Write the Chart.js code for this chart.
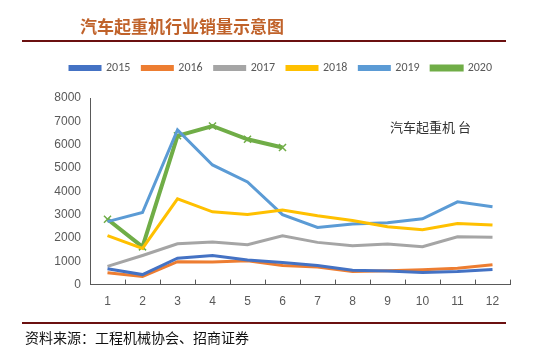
<!DOCTYPE html>
<html><head><meta charset="utf-8">
<script src="https://cdn.jsdelivr.net/npm/chart.js@4/dist/chart.umd.min.js"></script>
<style>html,body{margin:0;padding:0;background:#fff}#c{display:block}</style>
</head><body>
<canvas id="c" width="550" height="356"></canvas>
<script>
const months = ['1','2','3','4','5','6','7','8','9','10','11','12'];
const yTicks = [0,1000,2000,3000,4000,5000,6000,7000,8000];
const s2015 = [680,430,1130,1250,1050,950,820,620,580,520,560,650];
const s2016 = [510,350,980,970,1020,820,750,560,590,640,700,850];
const s2017 = [780,1250,1750,1830,1710,2090,1810,1670,1740,1620,2050,2030];
const s2018 = [2100,1550,3680,3120,3010,3200,2950,2750,2480,2350,2620,2550];
const s2019 = [2700,3090,6630,5130,4400,3000,2450,2600,2650,2820,3550,3340];
const s2020 = [2800,1620,6380,6800,6230,5880];
const titleText = '汽车起重机行业销量示意图';
const unitText = '汽车起重机 台';
const sourceText = '资料来源：工程机械协会、招商证券';

const CJK = '"Noto Sans CJK SC", "Noto Sans", sans-serif';

const decor = {
  id: 'decor',
  beforeInit(chart) {
    const lg = chart.legend;
    if (lg) {
      const orig = lg.fit.bind(lg);
      lg.fit = function() { orig(); this.height += 14; };
    }
  },
  afterLayout(chart) {
    const lg = chart.legend;
    if (lg) { lg.left += 11; lg.right += 11; }
  },
  afterDraw(chart) {
    const ctx = chart.ctx;
    ctx.save();
    ctx.font = 'bold 17px ' + CJK;
    ctx.fillStyle = '#c0622a';
    ctx.textBaseline = 'middle';
    ctx.textAlign = 'left';
    ctx.fillText(titleText, 80, 27);
    ctx.strokeStyle = '#6b1010';
    ctx.lineWidth = 2;
    ctx.beginPath(); ctx.moveTo(22, 41); ctx.lineTo(506, 41); ctx.stroke();
    ctx.beginPath(); ctx.moveTo(22, 323); ctx.lineTo(506, 323); ctx.stroke();
    ctx.font = '14px ' + CJK;
    ctx.fillStyle = '#111';
    ctx.fillText(sourceText, 25, 338);
    ctx.font = '13px ' + CJK;
    ctx.fillStyle = '#333';
    ctx.fillText(unitText, 390, 127);
    const xs = chart.scales.x;
    const yb = chart.scales.y.bottom;
    ctx.strokeStyle = '#595959';
    ctx.lineWidth = 1;
    for (let i = 0; i <= months.length; i++) {
      const x = Math.round(xs.getPixelForValue(i - 0.5)) + 0.5;
      ctx.beginPath(); ctx.moveTo(x, yb); ctx.lineTo(x, yb - 5); ctx.stroke();
    }
    ctx.restore();
  }
};

function ds(label, data, color, extra) {
  return Object.assign({
    label, data, borderColor: color, backgroundColor: color,
    borderWidth: 3, pointRadius: 0, tension: 0, fill: false
  }, extra || {});
}

new Chart(document.getElementById('c'), {
  type: 'line',
  data: {
    labels: months,
    datasets: [
      ds('2015', s2015, '#4472c4'),
      ds('2016', s2016, '#ed7d31'),
      ds('2017', s2017, '#a5a5a5'),
      ds('2018', s2018, '#ffc000'),
      ds('2019', s2019, '#5b9bd5'),
      ds('2020', s2020, '#70ad47', {borderWidth: 4, pointStyle: 'crossRot', pointRadius: 5, pointBorderWidth: 1.5})
    ]
  },
  options: {
    responsive: false,
    animation: false,
    layout: {padding: {top: 50, left: 30, right: 40, bottom: 37}},
    plugins: {
      legend: {
        position: 'top',
        labels: {
          boxWidth: 30, boxHeight: 3, padding: 12,
          color: '#595959',
          font: {size: 12, family: 'Calibri, "Liberation Sans", sans-serif'}
        }
      },
      tooltip: {enabled: false}
    },
    scales: {
      y: {
        min: 0, max: 8000,
        afterBuildTicks(scale) { scale.ticks = yTicks.map(v => ({value: v})); },
        afterFit(scale) { scale.width = 60; },
        grid: {display: false, drawTicks: false},
        border: {display: true, color: '#595959', width: 1},
        ticks: {color: '#595959', padding: 9, callback: v => String(v), font: {size: 12, family: '"Liberation Sans", sans-serif'}}
      },
      x: {
        offset: true,
        grid: {display: false, drawTicks: false},
        border: {display: true, color: '#595959', width: 1},
        ticks: {color: '#595959', padding: 10, font: {size: 12, family: '"Liberation Sans", sans-serif'}}
      }
    }
  },
  plugins: [decor]
});
</script>
</body></html>
